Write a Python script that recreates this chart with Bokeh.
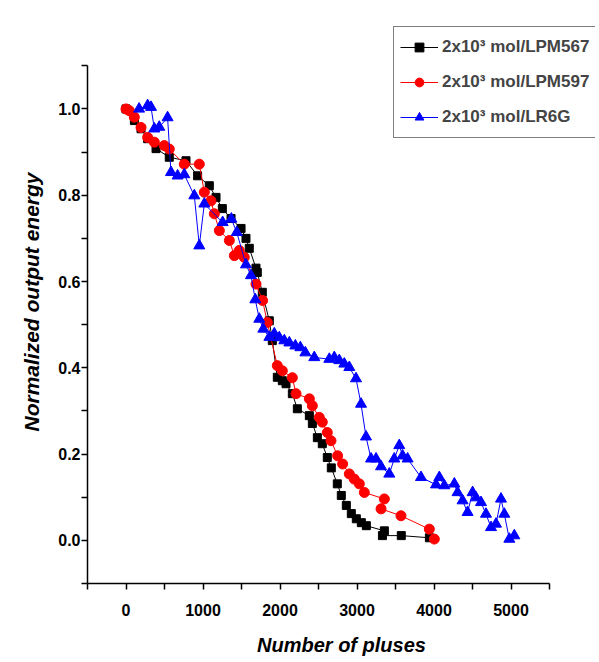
from bokeh.plotting import figure
from bokeh.embed import file_html
from bokeh.resources import INLINE
from bokeh.models import Legend, LegendItem, FixedTicker, NumeralTickFormatter, Range1d

# ---- data ----
pm567_x = [0, 109, 195, 281, 390, 562, 779, 930, 1082, 1169, 1251, 1364, 1494, 1558, 1601,
           1688, 1705, 1770, 1861, 1900, 1965, 2030, 2078, 2160, 2225, 2381, 2420, 2485,
           2549, 2614, 2666, 2744, 2796, 2861, 2926, 2991, 3056, 3121, 3355, 3330, 3575, 3940]
pm567_y = [1.0, 0.973, 0.954, 0.931, 0.908, 0.888, 0.880, 0.845, 0.822, 0.795, 0.769, 0.746,
           0.723, 0.700, 0.677, 0.631, 0.621, 0.575, 0.509, 0.463, 0.378, 0.370, 0.363, 0.340,
           0.305, 0.289, 0.271, 0.238, 0.224, 0.192, 0.168, 0.131, 0.104, 0.081, 0.062, 0.050,
           0.041, 0.034, 0.022, 0.011, 0.011, 0.006]

pm597_x = [0, 43, 108, 195, 281, 368, 497, 562, 757, 952, 1017, 1104, 1147, 1212, 1342, 1407,
           1471, 1536, 1688, 1774, 1835, 1965, 2030, 2160, 2208, 2381, 2420, 2510, 2549, 2614,
           2662, 2748, 2813, 2900, 2965, 3030, 3095, 3355, 3312, 3571, 3939, 4004]
pm597_y = [1.0, 0.996, 0.981, 0.957, 0.934, 0.923, 0.915, 0.907, 0.872, 0.872, 0.807, 0.787,
           0.757, 0.718, 0.695, 0.660, 0.672, 0.656, 0.594, 0.556, 0.505, 0.405, 0.393, 0.377,
           0.340, 0.328, 0.312, 0.285, 0.274, 0.250, 0.231, 0.196, 0.177, 0.154, 0.142, 0.131,
           0.111, 0.096, 0.073, 0.057, 0.026, 0.003]

r6g_x = [170, 281, 325, 368, 432, 540, 584, 670, 757, 887, 952, 1017, 1255, 1368, 1439, 1558,
         1623, 1679, 1731, 1783, 1862, 1926, 1991, 2056, 2121, 2199, 2264, 2329, 2445, 2640,
         2705, 2770, 2835, 2900, 2987, 3052, 3117, 3182, 3247, 3312, 3419, 3484, 3549, 3592,
         3657, 3831, 4026, 4069, 4134, 4264, 4306, 4371, 4436, 4501, 4545, 4610, 4675, 4740,
         4805, 4870, 4913, 4978, 5043]
r6g_y = [1.0, 1.008, 1.004, 0.954, 0.958, 0.980, 0.853, 0.845, 0.848, 0.799, 0.683, 0.780,
         0.737, 0.745, 0.714, 0.639, 0.614, 0.558, 0.513, 0.490, 0.471, 0.479, 0.470, 0.463,
         0.458, 0.451, 0.447, 0.435, 0.424, 0.420, 0.424, 0.417, 0.409, 0.401, 0.375, 0.316,
         0.240, 0.189, 0.189, 0.171, 0.154, 0.189, 0.220, 0.196, 0.189, 0.146, 0.129, 0.146,
         0.127, 0.131, 0.111, 0.092, 0.065, 0.111, 0.099, 0.088, 0.061, 0.030, 0.038, 0.096,
         0.061, 0.003, 0.011]

x_ticks = [0, 1000, 2000, 3000, 4000, 5000]
x_minor = [-500, 500, 1500, 2500, 3500, 4500, 5500]
y_ticks = [0.0, 0.2, 0.4, 0.6, 0.8, 1.0]
y_minor = [-0.1, 0.1, 0.3, 0.5, 0.7, 0.9, 1.1]
labels = ["2x10³ mol/LPM567", "2x10³ mol/LPM597", "2x10³ mol/LR6G"]

FONT = "Liberation Sans, Arial, sans-serif"

# frame spans beyond the axes so the legend (which sits partly outside the axes box) is not clipped
p = figure(width=598, height=660, output_backend="svg", toolbar_location=None,
           x_range=Range1d(-500, 6097), y_range=Range1d(-0.1, 1.205),
           min_border_left=87, min_border_top=20, min_border_right=3, min_border_bottom=77)
p.outline_line_color = None
p.grid.visible = False
p.background_fill_color = "white"
p.border_fill_color = "white"

# series
r1l = p.line(pm567_x, pm567_y, line_color="black", line_width=1)
r1m = p.scatter(pm567_x, pm567_y, marker="square", size=8, fill_color="black", line_color="black")
r2l = p.line(pm597_x, pm597_y, line_color="red", line_width=1)
r2m = p.scatter(pm597_x, pm597_y, marker="circle", size=10, fill_color="red", line_color="red")
r3l = p.line(r6g_x, r6g_y, line_color="blue", line_width=1)
r3m = p.scatter(r6g_x, r6g_y, marker="triangle", size=11, fill_color="blue", line_color="blue")

# axes
for ax in (p.xaxis[0], p.yaxis[0]):
    ax.axis_line_width = 1.5
    ax.axis_line_color = "black"
    ax.major_tick_line_width = 1.5
    ax.minor_tick_line_width = 1.5
    ax.major_tick_in = 0
    ax.major_tick_out = 6
    ax.minor_tick_in = 0
    ax.minor_tick_out = 6
    ax.major_label_text_font = FONT
    ax.major_label_text_font_style = "bold"
    ax.major_label_text_color = "black"
    ax.axis_label_text_font = FONT
    ax.axis_label_text_font_style = "bold italic"
    ax.axis_label_text_color = "black"

p.xaxis.bounds = (-500, 5500)
p.yaxis.bounds = (-0.1, 1.1)
p.xaxis.ticker = FixedTicker(ticks=x_ticks, minor_ticks=x_minor)
p.yaxis.ticker = FixedTicker(ticks=y_ticks, minor_ticks=y_minor)
p.yaxis.formatter = NumeralTickFormatter(format="0.0")
p.xaxis.formatter = NumeralTickFormatter(format="0")
p.xaxis.major_label_text_font_size = "16px"
p.yaxis.major_label_text_font_size = "16px"
p.xaxis.major_label_standoff = 14
p.yaxis.major_label_standoff = 1
p.xaxis.axis_label = "Number of pluses"
p.yaxis.axis_label = "Normalized output energy"
p.xaxis.axis_label_text_font_size = "20px"
p.yaxis.axis_label_text_font_size = "21px"
p.xaxis.axis_label_standoff = 15
p.yaxis.axis_label_standoff = 12

legend = Legend(items=[LegendItem(label=labels[0], renderers=[r1l, r1m]),
                       LegendItem(label=labels[1], renderers=[r2l, r2m]),
                       LegendItem(label=labels[2], renderers=[r3l, r3m])],
                location=(306, 445))
legend.border_line_color = "black"
legend.border_line_width = 1.5
legend.background_fill_alpha = 1
legend.label_text_font = FONT
legend.label_text_font_style = "bold"
legend.label_text_font_size = "17px"
legend.glyph_width = 38
legend.glyph_height = 22
legend.label_height = 28
legend.spacing = 7
legend.padding = 6
legend.margin = 0
legend.label_standoff = 4
p.add_layout(legend, "center")

open("out.html", "w").write(file_html(p, INLINE))
